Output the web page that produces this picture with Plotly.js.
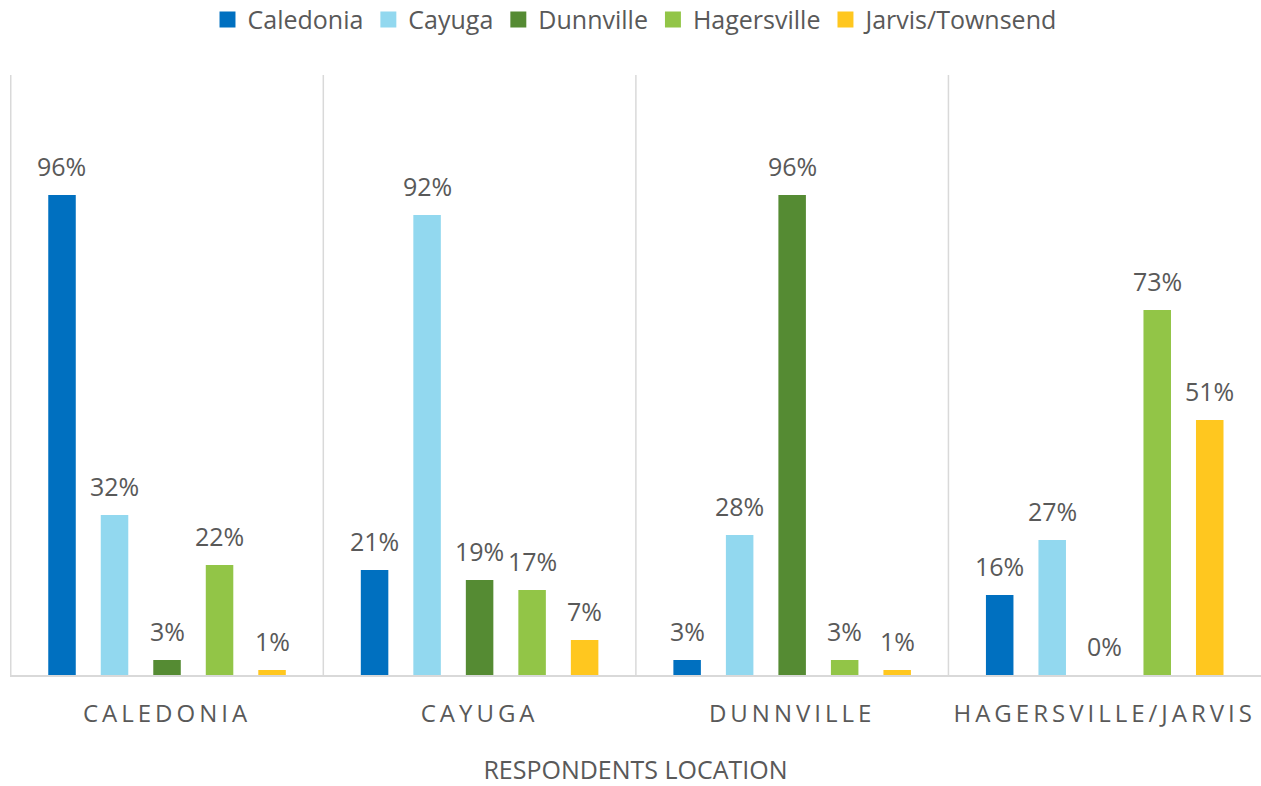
<!DOCTYPE html>
<html>
<head>
<meta charset="utf-8">
<script src="https://cdn.plot.ly/plotly-3.0.1.min.js"></script>
<style>
html, body { margin: 0; padding: 0; background: #fff; }
#chart { width: 1261px; height: 786px; }
.xtick text { letter-spacing: 4px; }
.legendpoints path { transform: translate(20px, 0px) scale(1.33); }
</style>
</head>
<body>
<div id="chart"></div>
<script>
const categories = ['CALEDONIA', 'CAYUGA', 'DUNNVILLE', 'HAGERSVILLE/JARVIS'];
const seriesNames = ['Caledonia', 'Cayuga', 'Dunnville', 'Hagersville', 'Jarvis/Townsend'];
const caledonia = [96, 21, 3, 16];
const cayuga = [32, 92, 28, 27];
const dunnville = [3, 19, 96, 0];
const hagersville = [22, 17, 3, 73];
const jarvisTownsend = [1, 7, 1, 51];
const seriesValues = [caledonia, cayuga, dunnville, hagersville, jarvisTownsend];
const colors = ['#0070C0', '#92D8EF', '#558B33', '#92C547', '#FFC71F'];

const font = 'Open Sans, Noto Sans, sans-serif';
const textColor = '#595959';

const W = 1261, H = 786;
const margin = { l: 10, r: 0, t: 75, b: 111, autoexpand: false };
const bargap = 0.16;
const bargroupgap = 0.476;
const plotW = W - margin.l - margin.r;
const catW = plotW / categories.length;
const slotW = catW * (1 - bargap) / seriesNames.length;

const traces = seriesNames.map((name, i) => ({
  type: 'bar',
  name: name,
  x: categories,
  y: seriesValues[i],
  marker: { color: colors[i] },
  hoverinfo: 'skip'
}));

// value labels placed via the axes' own scales, shifted to each bar's slot
const annotations = [];
seriesValues.forEach((vals, i) => {
  vals.forEach((v, j) => {
    annotations.push({
      xref: 'x', yref: 'y', x: categories[j], y: v,
      text: v + '%', showarrow: false,
      xanchor: 'center', yanchor: 'bottom',
      xshift: (i - (seriesNames.length - 1) / 2) * slotW,
      yshift: 10,
      font: { family: font, size: 25, color: textColor }
    });
  });
});

const shapes = [-0.5, 0.5, 1.5, 2.5].map(xv => ({
  type: 'line', xref: 'x', yref: 'paper',
  x0: xv, x1: xv, y0: 0, y1: 1,
  line: { color: '#D9D9D9', width: 1.5 }
}));

const layout = {
  width: W, height: H,
  margin: margin,
  paper_bgcolor: '#fff', plot_bgcolor: '#fff',
  barmode: 'group',
  bargap: bargap,
  bargroupgap: bargroupgap,
  showlegend: true,
  legend: {
    orientation: 'h', x: 0.5, xanchor: 'center',
    yref: 'container', y: 0.975, yanchor: 'middle',
    font: { family: font, size: 25, color: textColor },
    itemwidth: 30, tracegroupgap: 0
  },
  xaxis: {
    type: 'category',
    showline: true, linecolor: '#D9D9D9', linewidth: 2,
    showgrid: false, zeroline: false,
    ticks: '', ticklabelstandoff: 16,
    tickfont: { family: font, size: 24, color: textColor },
    title: { text: 'RESPONDENTS LOCATION', font: { family: font, size: 25, color: textColor }, standoff: 39 }
  },
  yaxis: {
    range: [0, 120], visible: false, showgrid: false, zeroline: false, fixedrange: true
  },
  annotations: annotations,
  shapes: shapes
};

Plotly.newPlot('chart', traces, layout, { displayModeBar: false, staticPlot: true });
</script>
</body>
</html>
